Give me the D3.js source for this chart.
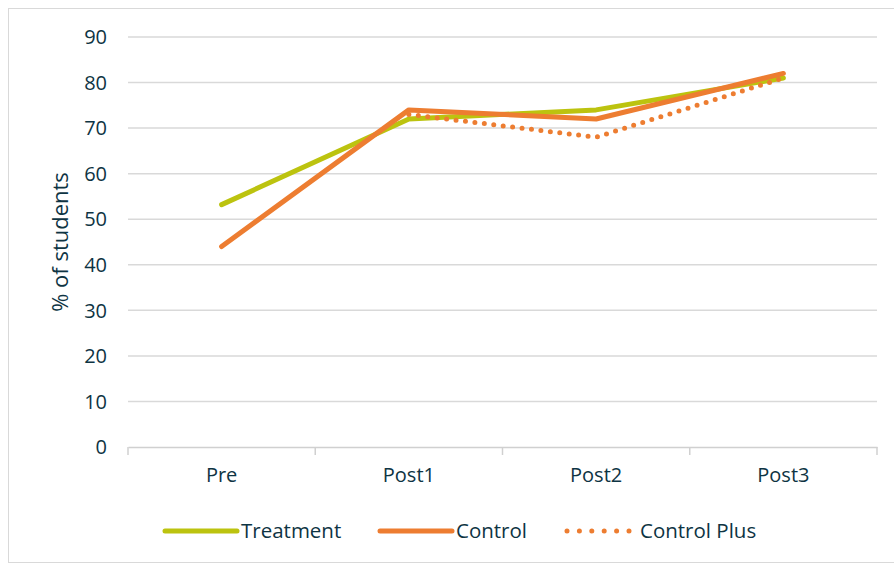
<!DOCTYPE html>
<html>
<head>
<meta charset="utf-8">
<script src="https://cdn.jsdelivr.net/npm/d3@7"></script>
<style>
  body { margin: 0; background: #fff; }
  text { font-family: "Open Sans", "Noto Sans", sans-serif; fill: #0e3443; }
</style>
</head>
<body>
<div id="chart"></div>
<script>
var categories = ["Pre", "Post1", "Post2", "Post3"];
var treatment = [53.2, 72, 74, 81];
var control = [44, 74, 72, 82];
var controlPlus = [null, 73, 68, 81];
var yTicks = [0, 10, 20, 30, 40, 50, 60, 70, 80, 90];

var series = [
  {name: "Treatment", values: treatment, color: "#bcc30f", dash: null},
  {name: "Control", values: control, color: "#ed7d31", dash: null},
  {name: "Control Plus", values: controlPlus, color: "#ed7d31", dash: "0,9.5"}
];

var width = 894, height = 565;
var margin = {left: 128, right: 17, top: 37, bottom: 118};

var svg = d3.select("#chart").append("svg").attr("width", width).attr("height", height);

// frame
svg.append("rect").attr("x", 8.5).attr("y", 8.5).attr("width", width).attr("height", height - 11)
  .attr("fill", "none").attr("stroke", "#d9d9d9").attr("stroke-width", 1);

var x = d3.scaleBand().domain(categories).range([margin.left, width - margin.right]);
var y = d3.scaleLinear().domain([0, 90]).range([height - margin.bottom, margin.top]);

// gridlines
svg.append("g").selectAll("line").data(yTicks.filter(function(d){ return d > 0; })).enter().append("line")
  .attr("x1", margin.left).attr("x2", width - margin.right)
  .attr("y1", function(d){ return y(d); }).attr("y2", function(d){ return y(d); })
  .attr("stroke", "#d9d9d9").attr("stroke-width", 1.5);

// y labels
svg.append("g").selectAll("text").data(yTicks).enter().append("text")
  .attr("x", 107).attr("y", function(d){ return y(d); })
  .attr("dy", "0.36em").attr("text-anchor", "end")
  .style("font-size", "20px")
  .text(function(d){ return d; });

// x axis
var xAxis = d3.axisBottom(x).tickSize(0).tickPadding(21);
var gx = svg.append("g").attr("transform", "translate(0," + y(0) + ")").call(xAxis);
gx.select(".domain").attr("stroke", "#d0d0d0").attr("stroke-width", 1.5);
gx.selectAll("text").style("font-size", "20px").style("font-family", "'Open Sans', 'Noto Sans', sans-serif").attr("fill", "#0e3443");
var edges = categories.map(function(c){ return x(c); }).concat([x.range()[1]]);
gx.selectAll(".edge").data(edges).enter().append("line")
  .attr("x1", function(d){ return d; }).attr("x2", function(d){ return d; })
  .attr("y1", 0).attr("y2", 8).attr("stroke", "#d0d0d0").attr("stroke-width", 1.5);

// axis title
svg.append("text")
  .attr("transform", "translate(60," + y(45) + ") rotate(-90)")
  .attr("dy", "0.35em")
  .attr("text-anchor", "middle")
  .style("font-size", "22px")
  .text("% of students");

// lines
var line = d3.line()
  .defined(function(d){ return d != null; })
  .x(function(d, i){ return x(categories[i]) + x.bandwidth() / 2; })
  .y(function(d){ return y(d); });

series.forEach(function(s){
  svg.append("path").datum(s.values)
    .attr("fill", "none")
    .attr("stroke", s.color)
    .attr("stroke-width", 5)
    .attr("stroke-linecap", "round")
    .attr("stroke-linejoin", "round")
    .attr("stroke-dasharray", s.dash)
    .attr("d", line);
});

// legend
var legendX = [165, 380, 567];
var legend = svg.append("g").selectAll("g").data(series).enter().append("g")
  .attr("transform", function(d, i){ return "translate(" + legendX[i] + ",531)"; });
legend.append("line")
  .attr("x1", 0).attr("x2", function(d){ return d.dash ? 62 : 72; })
  .attr("y1", 0).attr("y2", 0)
  .attr("stroke", function(d){ return d.color; })
  .attr("stroke-width", 5)
  .attr("stroke-linecap", "round")
  .attr("stroke-dasharray", function(d){ return d.dash ? "0,12.4" : null; });
legend.append("text")
  .attr("x", function(d){ return d.dash ? 73 : 76; })
  .attr("dy", "0.35em")
  .style("font-size", "20.5px")
  .text(function(d){ return d.name; });
</script>
</body>
</html>
